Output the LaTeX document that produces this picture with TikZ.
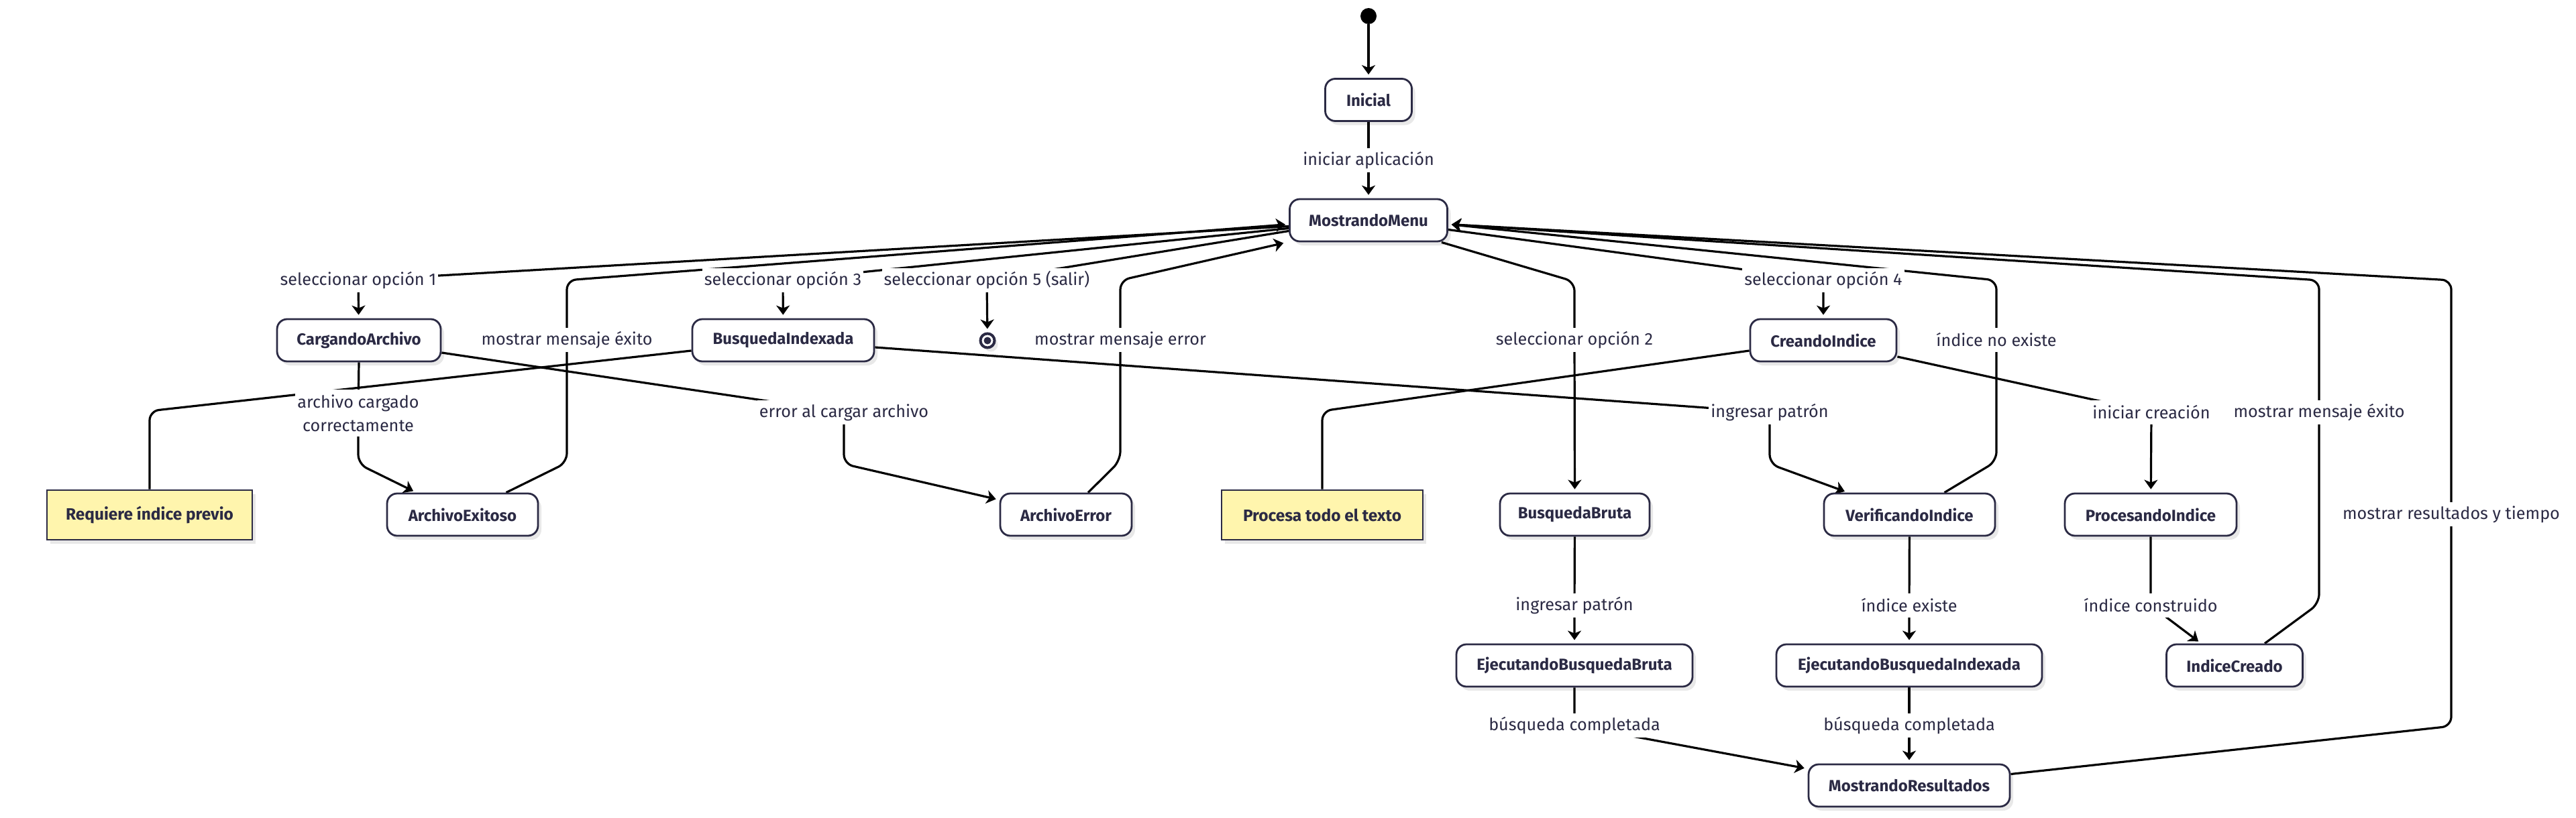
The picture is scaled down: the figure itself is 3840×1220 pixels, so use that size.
\documentclass[tikz,border=0pt]{standalone}
\usepackage{fontspec}
\setmainfont{Fira Sans}
\usetikzlibrary{arrows.meta,shadows}
\definecolor{ink}{HTML}{2B2A44}
\definecolor{notefill}{HTML}{FFF5AD}
\pgfdeclarelayer{background}
\pgfsetlayers{background,main}
\begin{document}
\begin{tikzpicture}[x=1pt,y=-1pt,
  shad/.style={drop shadow={shadow xshift=5pt,shadow yshift=-6pt,fill=black,opacity=0.09}},
  state/.style={draw=ink,line width=2.8pt,rounded corners=15pt,fill=white,text=ink,
    font=\fontsize{24}{30}\selectfont\bfseries,minimum height=63pt,inner sep=0pt,shad},
  notebox/.style={draw=ink,line width=2.8pt,fill=notefill,text=ink,
    font=\fontsize{24.5}{30}\selectfont\bfseries,minimum height=74pt,inner sep=0pt,shad},
  lbl/.style={fill=white,text=ink,inner xsep=3pt,inner ysep=0pt,minimum height=36pt,
    align=center,font=\fontsize{25.2}{35}\selectfont},
  edge/.style={draw=black,line width=3.2pt,rounded corners=14pt,
    -{Stealth[length=14pt,width=20pt,inset=4pt]},shorten >=5pt},
  link/.style={draw=black,line width=3.2pt,rounded corners=14pt}
]
\useasboundingbox (0,0) rectangle (3840,1220);

% ---------- states ----------
\node[circle,fill=black,minimum size=24pt,inner sep=0pt] (start) at (2040,24) {};
\node[state,minimum width=129pt] (inicial) at (2040,149) {Inicial};
\node[state,minimum width=235pt] (menu) at (2040,328.5) {MostrandoMenu};
\node[state,minimum width=244pt] (car) at (535,507.5) {CargandoArchivo};
\node[state,minimum width=271pt] (bidx) at (1167.5,507.5) {BusquedaIndexada};
\node[circle,draw=ink,line width=4pt,fill=white,minimum size=21pt,inner sep=0pt,shad] (fin) at (1472,508) {};
\fill[ink] (fin.center) circle (5.5pt);
\node[state,minimum width=218pt] (crea) at (2718,507.5) {CreandoIndice};
\node[state,minimum width=225pt] (exi) at (689.5,767.5) {ArchivoExitoso};
\node[state,minimum width=196pt] (err) at (1589,767.5) {ArchivoError};
\node[state,minimum width=223pt] (bbru) at (2347.5,767.5) {BusquedaBruta};
\node[state,minimum width=255pt] (ver) at (2846.5,767.5) {VerificandoIndice};
\node[state,minimum width=256pt] (proc) at (3206,767.5) {ProcesandoIndice};
\node[state,minimum width=352pt] (ejb) at (2347,992.5) {EjecutandoBusquedaBruta};
\node[state,minimum width=396pt] (eji) at (2846,992.5) {EjecutandoBusquedaIndexada};
\node[state,minimum width=203pt] (icre) at (3331,992.5) {IndiceCreado};
\node[state,minimum width=300pt] (res) at (2846,1171.5) {MostrandoResultados};
\node[notebox,minimum width=306pt] (note1) at (223,768) {Requiere índice previo};
\node[notebox,minimum width=300pt] (note2) at (1971,768) {Procesa todo el texto};

% ---------- label positions ----------
\coordinate (L0) at (2040,239);
\coordinate (L1) at (534,418);
\coordinate (L3) at (1167,418);
\coordinate (L5) at (1471,418);
\coordinate (L4) at (2718,418);
\coordinate (Lexi) at (845,507);
\coordinate (Lerr) at (1670,507);
\coordinate (L2) at (2347,507);
\coordinate (Lnoex) at (2976,507);
\coordinate (Lcarg) at (534,616);
\coordinate (Lerrc) at (1258,615);
\coordinate (Ling) at (2638,615);
\coordinate (Lini) at (3207,615);
\coordinate (Lexi2) at (3457,615);
\coordinate (Lres) at (3654,767);
\coordinate (Ling2) at (2347,903);
\coordinate (Lexist) at (2846,903);
\coordinate (Lcons) at (3206,903);
\coordinate (Lbc1) at (2347,1082);
\coordinate (Lbc2) at (2846,1082);

% ---------- connectors ----------
\begin{pgfonlayer}{background}
\draw[edge] (start) -- (inicial);
\draw[edge] (inicial) -- (L0) -- (menu);
\draw[edge] ([yshift=-9pt]menu.west) -- (L1) -- (car);
\draw[edge] ([xshift=65pt]exi.north) -- (845,690) -- (845,418) -- ([yshift=-6pt]menu.west);
\draw[edge] ([yshift=-12pt]menu.west) -- (L3) -- (bidx);
\draw[edge] ([yshift=-16pt]menu.west) -- (L5) -- (fin);
\draw[edge] ([xshift=33pt]err.north) -- (1670,687) -- (1670,418) -- ([xshift=-3pt]menu.south west);
\draw[edge] ([xshift=-10pt]menu.south east) -- (2347,420) -- (L2) -- (bbru);
\draw[edge] ([yshift=-14pt]menu.east) -- (L4) -- (crea);
\draw[edge] ([xshift=52pt]ver.north) -- (2976,688) -- (2976,418) -- ([yshift=-6pt]menu.east);
\draw[edge] ([xshift=45pt]icre.north) -- (3457,900) -- (3457,418) -- ([yshift=-6pt]menu.east);
\draw[edge] ([yshift=17pt]res.east) -- (3654,1083) -- (3654,418) -- ([yshift=-6pt]menu.east);
\draw[edge] ([yshift=-24.5pt]crea.east) -- (Lini) -- (proc);
\draw[link] ([yshift=-15.5pt]crea.west) -- (1971,613) -- (note2.north);
\draw[link] ([yshift=-15.5pt]bidx.west) -- (223,613) -- (note1.north);
\draw[edge] ([yshift=-10.5pt]bidx.east) -- (Ling) -- (2638,692) -- ([xshift=37pt]ver.north west);
\draw[edge] (car.south) -- (Lcarg) -- (534,692) -- ([xshift=45pt]exi.north west);
\draw[edge] ([yshift=-18.5pt]car.east) -- (Lerrc) -- (1258,692) -- ([yshift=22pt]err.west);
\draw[edge] (bbru) -- (Ling2) -- (ejb);
\draw[edge] (ver) -- (Lexist) -- (eji);
\draw[edge] (proc.south) -- (Lcons) -- ([xshift=53pt]icre.north west);
\draw[edge] (ejb.south) -- (Lbc1) -- ([yshift=25pt]res.west);
\draw[edge] (eji) -- (Lbc2) -- (res);
\end{pgfonlayer}

% ---------- labels ----------
\node[lbl] (t0) at (L0) {iniciar aplicación};
\node[lbl] (t1) at (L1) {seleccionar opción 1};
\node[lbl] (t3) at (L3) {seleccionar opción 3};
\node[lbl] (t5) at (L5) {seleccionar opción 5 (salir)};
\node[lbl] (t4) at (L4) {seleccionar opción 4};
\node[lbl] (texi) at (Lexi) {mostrar mensaje éxito};
\node[lbl] (terr) at (Lerr) {mostrar mensaje error};
\node[lbl] (t2) at (L2) {seleccionar opción 2};
\node[lbl] (tnoex) at (Lnoex) {índice no existe};
\node[lbl,minimum height=70pt] (tcarg) at (Lcarg) {archivo cargado\\correctamente};
\node[lbl] (terrc) at (Lerrc) {error al cargar archivo};
\node[lbl] (ting) at (Ling) {ingresar patrón};
\node[lbl] (tini) at (Lini) {iniciar creación};
\node[lbl] (texi2) at (Lexi2) {mostrar mensaje éxito};
\node[lbl] (tres) at (Lres) {mostrar resultados y tiempo};
\node[lbl] (ting2) at (Ling2) {ingresar patrón};
\node[lbl] (texist) at (Lexist) {índice existe};
\node[lbl] (tcons) at (Lcons) {índice construido};
\node[lbl] (tbc1) at (Lbc1) {búsqueda completada};
\node[lbl] (tbc2) at (Lbc2) {búsqueda completada};
\end{tikzpicture}
\end{document}
